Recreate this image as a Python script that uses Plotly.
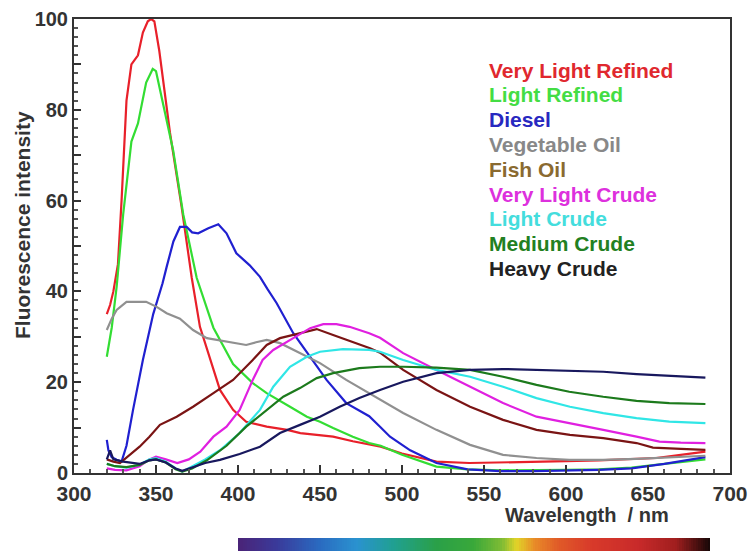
import plotly.graph_objects as go

W, H = 751, 551

names = ["Very Light Refined", "Light Refined", "Diesel", "Vegetable Oil", "Fish Oil",
         "Very Light Crude", "Light Crude", "Medium Crude", "Heavy Crude"]

vlr_x = [320, 322, 324, 326.8, 329, 332, 335, 337, 339, 342, 345, 347, 349, 352, 358.5, 365.6, 371.8,
         376.8, 385, 389, 397, 405, 417.5, 430, 438, 450, 458, 470, 480, 487, 500, 521, 541, 560, 580,
         600, 620, 640, 655, 670, 685]
vlr_y = [35, 37, 40, 46, 60, 82, 90, 91, 92, 97, 99.5, 100, 99.5, 93, 75, 58.7, 43, 32.2, 22.7, 18.3,
         13.9, 11.3, 10.2, 9.5, 8.8, 8.4, 8.0, 7, 6.2, 5.8, 4.3, 2.5, 2.2, 2.3, 2.5, 2.6, 2.8, 3, 3.3, 4, 4.7]

lr_x = [320, 323, 326, 330, 335, 339, 344, 348, 350, 354, 360.5, 366.6, 374.8, 385, 397, 409, 417.5,
        431.7, 442, 450, 458, 470, 480, 487, 500, 521, 540, 560, 580, 600, 620, 640, 660, 685]
lr_y = [25.6, 32, 41, 57, 73, 77, 86, 89, 88.5, 82, 71, 57, 43, 32, 24, 19.8, 17.6, 14.6, 12.4, 11.3,
        9.9, 8, 6.6, 6.0, 4, 1.4, 0.8, 0.6, 0.6, 0.7, 0.8, 1.2, 2, 3]

ds_x = [320, 321, 323, 326, 329, 332, 336, 342, 348.3, 354, 356.5, 360.6, 364.6, 368.7, 372, 375.7,
        381.9, 388, 393, 399, 407, 413.4, 418, 423.6, 433.7, 444, 454, 466, 480, 486.6, 492.7, 505,
        521, 540, 560, 580, 600, 620, 640, 660, 685]
ds_y = [7.3, 5, 3.5, 2.9, 2.5, 6, 13.9, 24.9, 35, 41.8, 45.4, 51, 54.2, 54.2, 53, 52.8, 53.9, 54.8,
        52.8, 48.4, 45.8, 43.2, 40.5, 37.4, 30.8, 25.6, 20.5, 15.4, 12.5, 10.2, 8, 5, 2.2, 0.8, 0.4,
        0.4, 0.5, 0.7, 1, 2, 3.5]

vo_x = [320, 323, 326, 332, 338, 344, 350.4, 356.5, 364.6, 372.6, 381, 393, 405, 411, 417.5, 425.7,
        437.8, 450, 466, 480, 486.6, 500.7, 521, 541.5, 561.6, 582, 602, 622.5, 643, 663, 685]
vo_y = [31.5, 34, 35.9, 37.7, 37.7, 37.7, 36.6, 35.2, 34, 31.5, 29.7, 28.9, 28.2, 28.8, 29.3, 28.6,
        26.4, 24.2, 20.5, 17.6, 16.3, 13.2, 9.5, 6.2, 4, 3.3, 2.9, 2.9, 3.1, 3.4, 3.8]

fo_x = [320, 324, 328, 334, 340, 346, 352.4, 362.6, 372.6, 385, 397, 409, 417.5, 425.6, 437.8, 448,
        458, 470, 480.5, 486.6, 500.7, 521, 541.5, 561.6, 582, 602.4, 622.7, 643, 653, 670, 685]
fo_y = [3, 2.5, 2.2, 4, 5.8, 8, 10.6, 12.4, 14.6, 17.6, 20.5, 24.9, 28.2, 29.7, 30.8, 31.7, 30.4,
        28.8, 27.5, 26.5, 22.7, 18.3, 14.6, 11.7, 9.5, 8.4, 7.7, 6.6, 5.6, 5.3, 5.1]

vlc_x = [320, 325, 332, 340, 346, 350, 356, 363, 370, 377, 385, 393, 401, 409, 415, 421.5, 433.7, 444,
         452, 460, 468, 480, 486.6, 500.7, 521, 541.5, 561.6, 582, 602.4, 622.7, 643, 657, 670, 685]
vlc_y = [1, 0.7, 0.6, 1.5, 3, 3.6, 3, 2.2, 3, 4.7, 8, 10.2, 13.9, 20.5, 24.9, 27.1, 29.7, 31.9, 32.8,
         32.8, 32.2, 30.8, 29.8, 26.4, 22.7, 19, 15.4, 12.4, 11, 9.5, 8, 6.9, 6.7, 6.6]

lc_x = [320, 325, 332, 340, 346, 350, 356, 362, 366, 372, 380, 389, 401, 413.4, 421.5, 431.7, 442,
        450, 464, 480, 486.6, 500.7, 521, 541.5, 561.6, 582, 602.4, 622.7, 643, 663, 685]
lc_y = [2, 1.5, 1.2, 1.8, 3, 3.3, 2.5, 1, 0.3, 1.5, 3, 5, 8.8, 13.9, 19, 23.4, 25.6, 26.7, 27.3, 27.1,
        26.7, 24.9, 22.7, 21.2, 19, 16.5, 14.6, 13.2, 12.1, 11.3, 11]

mc_x = [320, 325, 332, 340, 346, 350, 356, 362, 366, 372, 381, 393, 405, 417.5, 427.6, 437.8, 448,
        458, 474, 486.6, 500.7, 521, 541.5, 561.6, 582, 602, 622.7, 643, 663, 685]
mc_y = [2, 1.5, 1.3, 1.8, 2.8, 3, 2.3, 0.8, 0.3, 1, 2.8, 6, 10.2, 13.9, 16.8, 18.7, 20.9, 22, 23.1,
        23.4, 23.4, 23.2, 22.7, 21.2, 19.4, 17.9, 16.8, 15.9, 15.4, 15.2]

hc_x = [320, 322, 324, 330, 340, 346, 350, 356, 362, 366, 372, 380, 389, 401, 413.4, 425.6, 437.8,
        450, 462, 474, 486.6, 500.7, 521, 541.5, 561.6, 582, 602.4, 622.7, 643, 663, 685]
hc_y = [3, 5, 3, 2.5, 2, 2.8, 3, 2.3, 1, 0.5, 1.2, 2.2, 2.9, 4.2, 5.8, 8.8, 10.6, 12.4, 14.6, 16.5,
        18.3, 20.1, 22, 22.7, 22.9, 22.7, 22.5, 22.3, 21.8, 21.4, 21]

series_x = [vlr_x, lr_x, ds_x, vo_x, fo_x, vlc_x, lc_x, mc_x, hc_x]
series_y = [vlr_y, lr_y, ds_y, vo_y, fo_y, vlc_y, lc_y, mc_y, hc_y]

line_colors = ["#e8202a", "#33dd33", "#2020d0", "#909090", "#7a1414",
               "#e020e0", "#30e6e6", "#1c7a1c", "#18185e"]
label_colors = ["#e0282e", "#44dd44", "#2828c0", "#888888", "#8a6a30",
                "#dd30dd", "#44dddd", "#228022", "#222222"]

# spectrum strip below the axis
spectrum_colors = ["#4a2478", "#3a3a9a", "#2a6ac0", "#2a92d0", "#20a090", "#2aa048", "#3aa83a",
                   "#80bc34", "#e0d428", "#e88a28", "#e05a28", "#d83a2a", "#c82a2a", "#a01e1e", "#1a0808"]
spectrum_pos = [0.0, 0.08, 0.17, 0.25, 0.33, 0.42, 0.5, 0.56, 0.59, 0.63, 0.68, 0.75, 0.85, 0.93, 1.0]

fig = go.Figure()

for n, xs, ys, c in zip(names, series_x, series_y, line_colors):
    fig.add_trace(go.Scatter(x=xs, y=ys, mode="lines", name=n,
                             line=dict(color=c, width=2.2), showlegend=False))

nz = 200
fig.add_trace(go.Heatmap(z=[list(range(nz))], x=list(range(nz)), y=[0],
                         colorscale=[[p, c] for p, c in zip(spectrum_pos, spectrum_colors)],
                         showscale=False, xaxis="x2", yaxis="y2", hoverinfo="skip"))

FONT = "Liberation Sans"
xtickfont = dict(family=FONT, size=21, color="#333333", weight="bold")
ytickfont = dict(family=FONT, size=20, color="#333333", weight="bold")

x0, x1 = 74, 730
yt, yb = 19, 473
fig.update_layout(
    width=W, height=H,
    margin=dict(l=0, r=0, t=0, b=0, autoexpand=False),
    paper_bgcolor="white", plot_bgcolor="white",
    xaxis=dict(domain=[x0 / W, x1 / W], range=[300, 700], dtick=50, tick0=300,
               ticks="inside", ticklen=8, tickwidth=1.5, tickcolor="#333",
               minor=dict(dtick=10, ticks="inside", ticklen=4, tickcolor="#555"),
               showline=True, linecolor="#333", linewidth=2, mirror=True,
               showgrid=False, zeroline=False, tickfont=xtickfont, anchor="y",
               ticklabeloverflow="allow", ticklabelstandoff=1),
    yaxis=dict(domain=[1 - yb / H, 1 - yt / H], range=[0, 100],
               tickvals=[0, 10, 20, 30, 40, 50, 60, 70, 80, 90, 100],
               ticktext=["0", "", "20", "", "40", "", "60", "", "80", "", "100"],
               ticks="inside", ticklen=7, tickwidth=1.5, tickcolor="#333",
               minor=dict(dtick=2, ticks="inside", ticklen=4, tickcolor="#555"),
               showline=True, linecolor="#333", linewidth=2, mirror=True,
               showgrid=False, zeroline=False, tickfont=ytickfont, anchor="x",
               ticklabeloverflow="allow"),
    xaxis2=dict(domain=[238 / W, 710 / W], range=[-0.5, nz - 0.5],
                visible=False, anchor="y2"),
    yaxis2=dict(domain=[0, 13 / H], range=[-0.5, 0.5], visible=False, anchor="x2"),
)

ann = []
for i, (n, c) in enumerate(zip(names, label_colors)):
    ann.append(dict(x=487 / W, y=1 - (70 + i * 24.8) / H, xref="paper", yref="paper",
                    text=n, showarrow=False, xanchor="left", yanchor="middle",
                    font=dict(family=FONT, size=21, color=c, weight="bold")))
ann.append(dict(x=587 / W, y=1 - 515 / H, xref="paper", yref="paper",
                text="Wavelength\u00a0\u00a0/ nm", showarrow=False, xanchor="center", yanchor="middle",
                font=dict(family=FONT, size=20, color="#333333", weight="bold")))
ann.append(dict(x=22 / W, y=1 - 225 / H, xref="paper", yref="paper",
                text="Fluorescence intensity", showarrow=False, textangle=-90,
                xanchor="center", yanchor="middle",
                font=dict(family=FONT, size=21, color="#333333", weight="bold")))
fig.update_layout(annotations=ann)

fig.write_html("out.html",
               config={"displayModeBar": False},
               post_script="document.body.style.margin='0';document.body.style.overflow='hidden';")
